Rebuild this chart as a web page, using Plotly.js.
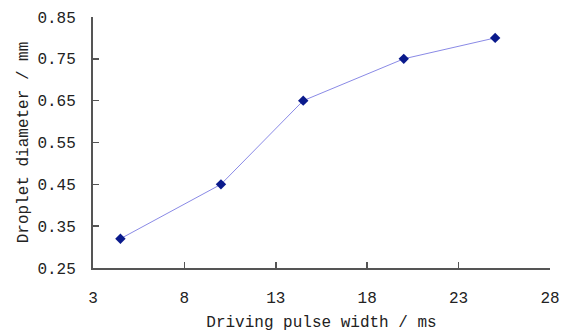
<!DOCTYPE html>
<html><head><meta charset="utf-8">
<script src="https://cdn.plot.ly/plotly-3.0.1.min.js"></script>
<style>html,body{margin:0;padding:0;background:#fff;}#chart{width:572px;height:335px;}</style>
</head><body><div id="chart"></div>
<script>
const pulseWidth = [4.5, 10, 14.5, 20, 25];
const dropletDiameter = [0.32, 0.45, 0.65, 0.75, 0.80];
const xTicks = [3, 8, 13, 18, 23, 28];
const yTicks = [0.25, 0.35, 0.45, 0.55, 0.65, 0.75, 0.85];
const xTitle = 'Driving pulse width / ms';
const yTitle = 'Droplet diameter / mm';

const font = {family: '"Liberation Mono", "DejaVu Sans Mono", monospace', size: 16, color: '#222'};

Plotly.newPlot('chart', [{
  x: pulseWidth, y: dropletDiameter, type: 'scatter', mode: 'lines+markers',
  line: {color: '#8a8ae6', width: 1},
  marker: {symbol: 'diamond', size: 8, color: '#0a1a8c'}
}], {
  width: 572, height: 335,
  margin: {l: 93, r: 22, t: 17, b: 67},
  paper_bgcolor: '#fff', plot_bgcolor: '#fff',
  showlegend: false,
  font: font,
  xaxis: {
    range: [3, 28], tickvals: xTicks, ticktext: xTicks.map(String),
    showgrid: false, zeroline: false, showline: true, linecolor: '#555', linewidth: 2,
    ticks: 'inside', ticklen: 6, tickwidth: 1.5, tickcolor: '#555',
    ticklabelstandoff: 14,
    title: {text: xTitle, font: font, standoff: 9}
  },
  yaxis: {
    range: [0.25, 0.85], tickvals: yTicks, ticktext: yTicks.map(v => v.toFixed(2)),
    showgrid: false, zeroline: false, showline: true, linecolor: '#555', linewidth: 2,
    ticks: 'inside', ticklen: 6, tickwidth: 1.5, tickcolor: '#555',
    ticklabelstandoff: 12,
    title: {text: yTitle, font: font, standoff: 5}
  }
}, {displayModeBar: false, staticPlot: true});
</script></body></html>
